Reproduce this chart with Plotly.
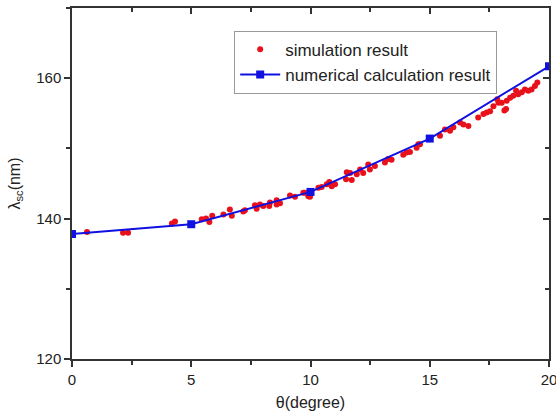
import plotly.graph_objects as go

# numerical calculation result
calc_theta = [0, 5, 10, 15, 20]
calc_lambda = [137.8, 139.2, 143.8, 151.4, 161.7]

# simulation result
sim_theta = [0.63, 2.14, 2.35, 4.19, 4.32,
             5.44, 5.62, 5.76, 5.88, 6.35, 6.62, 6.70, 7.18, 7.25, 7.67, 7.74, 7.88, 8.02,
             8.27, 8.30, 8.58, 8.58, 8.72, 9.14, 9.35, 9.70, 9.91,
             9.77, 9.98, 10.33, 10.47, 10.79, 10.89, 11.03, 11.52, 11.66, 11.49, 11.73,
             11.94, 12.08, 12.21, 12.42, 12.49, 12.70, 13.12, 13.26, 13.40, 13.89, 14.03,
             14.17, 14.45, 14.52,
             14.59, 15.43, 15.64, 15.85, 15.99, 16.27, 16.41, 16.62, 17.03, 17.25, 17.39,
             17.53, 17.67, 17.83, 17.88, 18.02, 18.13, 18.23, 18.37, 18.50, 18.62, 18.71,
             18.86, 18.99, 19.13, 19.27, 19.41, 19.51, 18.20, 10.68]
sim_lambda = [138.1, 138.0, 138.0, 139.3, 139.6,
              139.9, 140.0, 139.5, 140.4, 140.6, 141.3, 140.4, 141.0, 141.2, 141.9, 141.4, 142.0, 141.8,
              141.8, 142.3, 142.6, 142.0, 142.2, 143.3, 143.1, 143.7, 143.2,
              143.7, 143.1, 144.4, 144.5, 145.2, 144.6, 144.9, 146.6, 146.5, 145.6, 145.5,
              146.3, 147.0, 146.5, 147.7, 147.0, 147.5, 148.0, 148.5, 148.4, 149.1, 149.4,
              149.5, 150.1, 150.6,
              150.6, 151.8, 152.7, 152.5, 153.0, 153.7, 153.4, 153.2, 154.4, 154.9, 155.1,
              155.3, 156.0, 157.0, 156.5, 156.5, 155.4, 156.8, 157.2, 157.5, 158.2, 157.7,
              158.0, 158.4, 158.2, 158.4, 158.9, 159.4, 155.6, 144.9]

x_ticks = [0, 5, 10, 15, 20]
y_ticks = [120, 140, 160]

fig = go.Figure()
fig.add_trace(go.Scatter(
    x=sim_theta, y=sim_lambda, mode="markers", name="simulation result",
    marker=dict(color="#e8111b", size=6, symbol="circle", line=dict(width=0)),
))
fig.add_trace(go.Scatter(
    x=calc_theta, y=calc_lambda, mode="lines+markers", name="numerical calculation result",
    line=dict(color="#1010e0", width=2),
    marker=dict(color="#1010e0", size=8, symbol="square"),
))
# invisible trace to carry mirrored axes
fig.add_trace(go.Scatter(x=[0], y=[120], xaxis="x2", yaxis="y2", mode="markers",
                         marker=dict(opacity=0), showlegend=False, hoverinfo="skip"))

axis_color = "#333333"
font_family = "Liberation Sans, Arial, sans-serif"

fig.update_layout(
    width=556, height=416,
    margin=dict(l=72, r=7, t=8, b=57, autoexpand=False),
    paper_bgcolor="white", plot_bgcolor="white",
    font=dict(family=font_family, size=15, color="#222222"),
    showlegend=True,
    legend=dict(x=0.34, y=0.935, xanchor="left", yanchor="top",
                bgcolor="white", bordercolor="#999999", borderwidth=1,
                font=dict(size=17, color="#222222"), tracegroupgap=0,
                itemwidth=40),
    xaxis=dict(range=[0, 20], tickvals=x_ticks, ticks="outside", ticklen=6, tickwidth=1.5,
               tickcolor=axis_color, showline=True, linecolor=axis_color, linewidth=1.5,
               showgrid=False, zeroline=False, ticklabeloverflow="allow", automargin=False,
               minor=dict(dtick=2.5, tick0=0, ticks="outside", ticklen=4, tickwidth=1.5,
                          tickcolor=axis_color, showgrid=False),
               title=dict(text="θ(degree)", font=dict(size=16), standoff=10),
               tickfont=dict(size=15)),
    yaxis=dict(range=[120, 170], tickvals=y_ticks, ticks="outside", ticklen=6, tickwidth=1.5,
               tickcolor=axis_color, showline=True, linecolor=axis_color, linewidth=1.5,
               showgrid=False, zeroline=False, automargin=False,
               minor=dict(dtick=10, tick0=120, ticks="outside", ticklen=4, tickwidth=1.5,
                          tickcolor=axis_color, showgrid=False),
               title=dict(text="λ<sub>sc</sub>(nm)", font=dict(size=16), standoff=12),
               tickfont=dict(size=15)),
    xaxis2=dict(overlaying="x", side="top", range=[0, 20], tickvals=x_ticks, ticks="inside",
                ticklen=6, tickwidth=1.5, tickcolor=axis_color, showticklabels=False,
                showline=True, linecolor=axis_color, linewidth=1.5, showgrid=False,
                zeroline=False, automargin=False,
                minor=dict(dtick=2.5, tick0=0, ticks="inside", ticklen=4, tickwidth=1.5,
                           tickcolor=axis_color, showgrid=False)),
    yaxis2=dict(overlaying="y", side="right", range=[120, 170], tickvals=y_ticks, ticks="inside",
                ticklen=6, tickwidth=1.5, tickcolor=axis_color, showticklabels=False,
                showline=True, linecolor=axis_color, linewidth=1.5, showgrid=False,
                zeroline=False, anchor="x2", automargin=False,
                minor=dict(dtick=10, tick0=120, ticks="inside", ticklen=4, tickwidth=1.5,
                           tickcolor=axis_color, showgrid=False)),
)

fig.write_html("out.html", config={"displayModeBar": False},
               post_script="document.body.style.margin='0px';document.body.style.overflow='hidden';")
